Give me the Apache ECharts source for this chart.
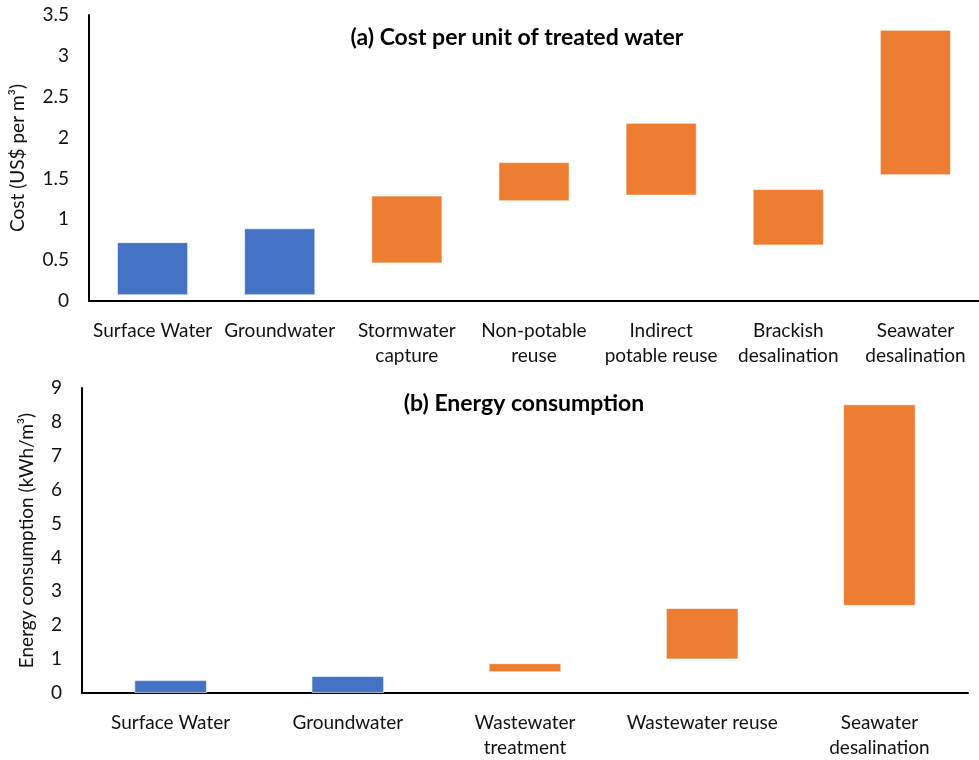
<!DOCTYPE html>
<html>
<head>
<meta charset="utf-8">
<script src="https://cdn.jsdelivr.net/npm/echarts@6/dist/echarts.min.js"></script>
<style>
html, body { margin: 0; padding: 0; background: #fff; }
#chart { width: 979px; height: 760px; }
</style>
</head>
<body>
<div id="chart"></div>
<script>
// (a) cost per unit of treated water, US$ per m3
var costCats = ['Surface Water', 'Groundwater', 'Stormwater\ncapture', 'Non-potable\nreuse',
	'Indirect\npotable reuse', 'Brackish\ndesalination', 'Seawater\ndesalination'];
var costLow = [0.07, 0.07, 0.46, 1.22, 1.29, 0.68, 1.54];
var costHigh = [0.72, 0.89, 1.29, 1.70, 2.18, 1.37, 3.32];
var costKind = ['conventional', 'conventional', 'alternative', 'alternative', 'alternative', 'alternative', 'alternative'];
var costTicks = [0, 3.5, 0.5];

// (b) energy consumption, kWh per m3
var energyCats = ['Surface Water', 'Groundwater', 'Wastewater\ntreatment', 'Wastewater reuse', 'Seawater\ndesalination'];
var energyLow = [0, 0, 0.61, 0.99, 2.57];
var energyHigh = [0.38, 0.5, 0.88, 2.51, 8.52];
var energyKind = ['conventional', 'conventional', 'alternative', 'alternative', 'alternative'];
var energyTicks = [0, 9, 1];

var kindColor = { conventional: '#4472C4', alternative: '#ED7D31' };
var font = 'Lato, "Open Sans", sans-serif';

function spans(low, high, kind) {
	return low.map(function (v, i) {
		return {
			value: +(high[i] - v).toFixed(3),
			itemStyle: { color: kindColor[kind[i]] }
		};
	});
}

function xAx(idx, cats) {
	return {
		type: 'category',
		gridIndex: idx,
		data: cats,
		axisLine: { lineStyle: { color: '#000', width: 2 } },
		axisTick: { show: false },
		axisLabel: { color: '#111', fontSize: 19, fontFamily: font, margin: 17, lineHeight: 25, interval: 0 }
	};
}

function yAx(idx, ticks, name, gap) {
	return {
		type: 'value',
		gridIndex: idx,
		min: ticks[0], max: ticks[1], interval: ticks[2],
		name: name,
		nameLocation: 'middle',
		nameGap: gap,
		nameTextStyle: { color: '#111', fontSize: 19, fontFamily: font },
		axisLine: { show: true, lineStyle: { color: '#000', width: 2 } },
		axisTick: { show: false },
		splitLine: { show: false },
		axisLabel: { color: '#111', fontSize: 19, fontFamily: font, margin: 20 }
	};
}

var option = {
	animation: false,
	graphic: [
		{ type: 'text', x: 517, y: 38, style: { text: '(a) Cost per unit of treated water', font: 'bold 23px ' + font, fill: '#000', textAlign: 'center', textVerticalAlign: 'middle' } },
		{ type: 'text', x: 524, y: 404, style: { text: '(b) Energy consumption', font: 'bold 23px ' + font, fill: '#000', textAlign: 'center', textVerticalAlign: 'middle' } }
	],
	grid: [
		{ left: 83, top: 15, width: 896, height: 286 },
		{ left: 82, top: 388, width: 886, height: 308 }
	],
	xAxis: [xAx(0, costCats), xAx(1, energyCats)],
	yAxis: [yAx(0, costTicks, 'Cost (US$ per m³)', 62), yAx(1, energyTicks, 'Energy consumption (kWh/m³)', 46)],
	series: [
		{ type: 'bar', xAxisIndex: 0, yAxisIndex: 0, stack: 'a', data: costLow, itemStyle: { color: 'transparent' }, barWidth: '56%', silent: true },
		{ type: 'bar', xAxisIndex: 0, yAxisIndex: 0, stack: 'a', data: spans(costLow, costHigh, costKind), barWidth: '56%', itemStyle: { borderColor: 'rgba(255,255,255,0.6)', borderWidth: 1 } },
		{ type: 'bar', xAxisIndex: 1, yAxisIndex: 1, stack: 'b', data: energyLow, itemStyle: { color: 'transparent' }, barWidth: '41%', silent: true },
		{ type: 'bar', xAxisIndex: 1, yAxisIndex: 1, stack: 'b', data: spans(energyLow, energyHigh, energyKind), barWidth: '41%', itemStyle: { borderColor: 'rgba(255,255,255,0.6)', borderWidth: 1 } }
	]
};

var myChart = echarts.init(document.getElementById('chart'));
myChart.setOption(option);
</script>
</body>
</html>
